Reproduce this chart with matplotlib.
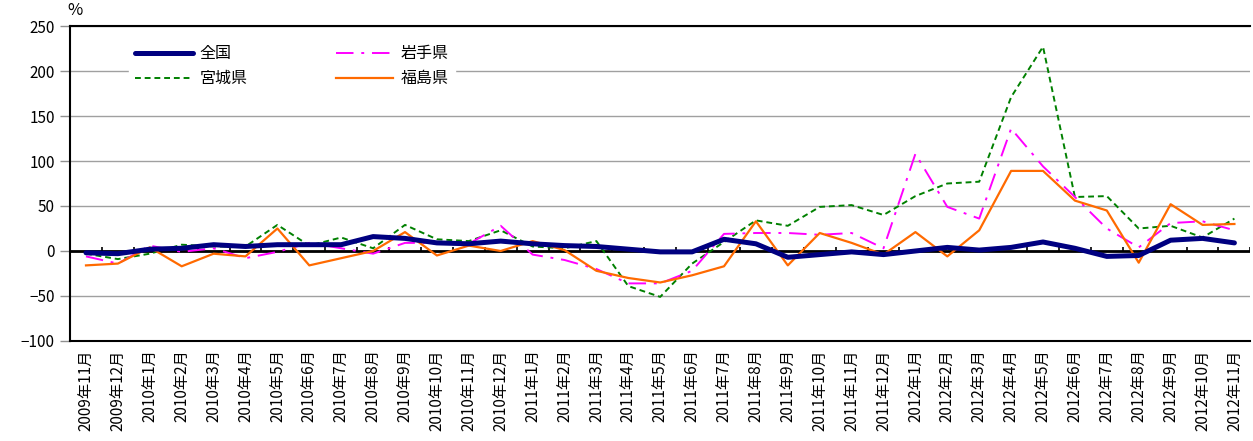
import matplotlib.pyplot as plt
import numpy as np

plt.rcParams['font.family'] = ['Noto Sans CJK JP', 'DejaVu Sans']

months = ['2009年11月', '2009年12月'] + \
    ['2010年%d月' % m for m in range(1, 13)] + \
    ['2011年%d月' % m for m in range(1, 13)] + \
    ['2012年%d月' % m for m in range(1, 12)]

zenkoku = [-2, -3, 2, 3, 7, 5, 7, 7, 7, 16, 14, 9, 8, 11, 8, 6, 5, 2, -1, -1,
           13, 8, -7, -4, -1, -4, 0, 4, 1, 4, 10, 3, -6, -5, 12, 14, 9]
iwate = [-6, -14, 6, -1, 3, -8, -1, 9, 3, -3, 9, 9, 8, 28, -4, -10, -20, -36, -36, -22,
         19, 20, 20, 18, 20, 3, 108, 49, 36, 136, 94, 60, 25, 4, 31, 33, 23]
miyagi = [-3, -9, -3, 7, 5, 5, 29, 6, 15, 3, 29, 13, 11, 23, 5, 3, 11, -39, -51, -14,
          10, 34, 28, 49, 51, 40, 61, 75, 77, 171, 227, 60, 61, 25, 28, 15, 36]
fukushima = [-16, -14, 4, -17, -3, -6, 25, -16, -8, 0, 21, -5, 6, 0, 11, 1, -22, -30, -35, -27,
             -17, 33, -16, 20, 9, -4, 21, -6, 23, 89, 89, 56, 45, -13, 52, 29, 30]

x = np.arange(len(months))

fig = plt.figure(figsize=(12.53, 4.41), dpi=100)
ax = fig.add_axes([0.0559, 0.2268, 0.942, 0.7142])

ax.set_ylim(-100, 250)
ax.set_xlim(-0.5, len(months) - 0.5)
ax.set_yticks(np.arange(-100, 251, 50))
ax.yaxis.grid(True, color='#a0a0a0', linewidth=1)
ax.set_axisbelow(True)

# zero axis line with category tick marks
ax.axhline(0, color='black', linewidth=2, zorder=2)
ax.vlines(np.arange(len(months) + 1) - 0.5, 0, 4, color='black', linewidth=1.2, zorder=2)

l1, = ax.plot(x, zenkoku, color='#000080', linewidth=3.6, solid_capstyle='round', zorder=6, label='全国')
l2, = ax.plot(x, iwate, color='#ff00ff', linewidth=1.4, dashes=(9, 4, 1.5, 4), zorder=4, label='岩手県')
l3, = ax.plot(x, miyagi, color='#008000', linewidth=1.4, dashes=(3, 2), zorder=3, label='宮城県')
l4, = ax.plot(x, fukushima, color='#ff6a00', linewidth=1.6, zorder=5, label='福島県')

ax.set_xticks(x)
ax.set_xticklabels(months, rotation=90, fontsize=11)
ax.tick_params(axis='x', length=0, pad=6)
ax.tick_params(axis='y', labelsize=11, length=7, width=1, color='#909090', direction='out', pad=4)

for s in ['left', 'top', 'bottom']:
    ax.spines[s].set_color('black')
    ax.spines[s].set_linewidth(1.5)
ax.spines['right'].set_visible(False)

leg = ax.legend(handles=[l1, l3, l2, l4], ncol=2, loc='upper left',
                bbox_to_anchor=(0.043, 0.985), frameon=True, fontsize=11.5,
                handlelength=3.6, handletextpad=0.45, columnspacing=5.5,
                borderpad=0.4, labelspacing=0.5)
leg.get_frame().set_edgecolor('white')
leg.get_frame().set_facecolor('white')
leg.get_frame().set_alpha(1)
leg.get_frame().set_boxstyle('square', pad=0)
leg.set_zorder(10)

fig.text(0.054, 0.958, '%', fontsize=12, ha='left', va='bottom')

fig.savefig('out.png', dpi=100)
